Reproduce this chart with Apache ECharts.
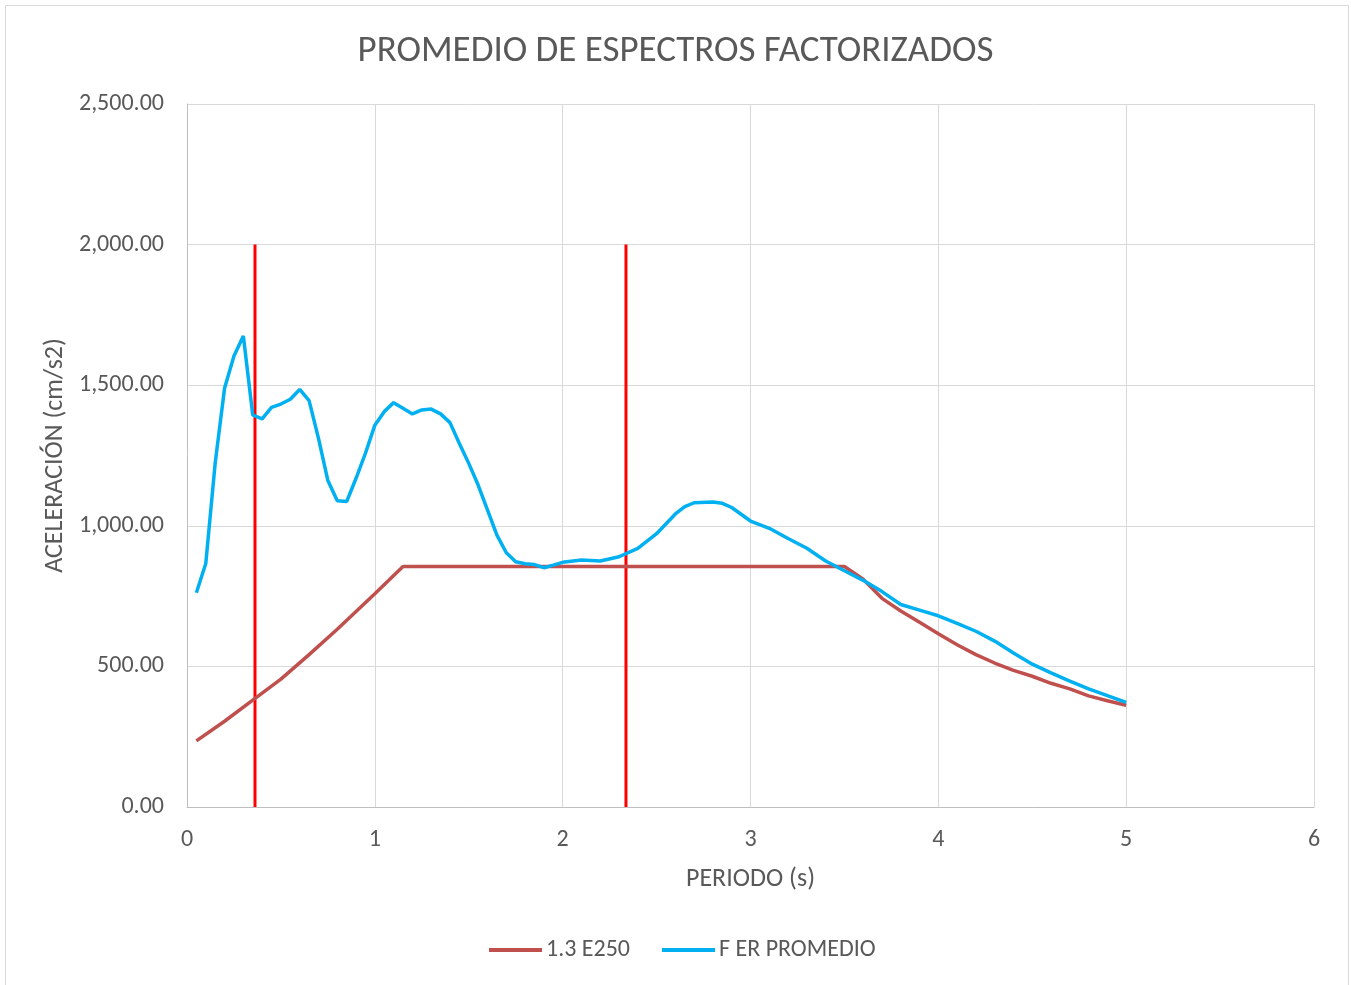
<!DOCTYPE html>
<html>
<head>
<meta charset="utf-8">
<script src="https://cdn.jsdelivr.net/npm/echarts@6/dist/echarts.min.js"></script>
<style>
html,body{margin:0;padding:0;background:#fff;}
#chart{width:1351px;height:985px;}
</style>
</head>
<body>
<div id="chart"></div>
<script>
// Data
const titleText = "PROMEDIO DE ESPECTROS FACTORIZADOS";
const xAxisName = "PERIODO (s)";
const yAxisName = "ACELERACIÓN (cm/s2)";
const seriesNames = ["1.3 E250", "F ER PROMEDIO"];

const e250Periods = [0.05, 0.2, 0.35, 0.5, 0.65, 0.8, 0.9, 1.0, 1.15, 3.5, 3.6, 3.7, 3.8, 3.9, 4.0, 4.1, 4.2, 4.3, 4.4, 4.5, 4.6, 4.7, 4.8, 4.9, 5.0];
const e250Values  = [235, 305, 380, 455, 542, 632, 695, 758, 855, 855, 810, 742, 697, 657, 616, 577, 542, 512, 486, 465, 440, 420, 395, 378, 362];

const promPeriods = [0.05,0.1,0.15,0.2,0.25,0.3,0.35,0.4,0.45,0.5,0.55,0.6,0.65,0.7,0.75,0.8,0.85,0.9,0.95,1.0,1.05,1.1,1.15,1.2,1.25,1.3,1.35,1.4,1.45,1.5,1.55,1.6,1.65,1.7,1.75,1.8,1.85,1.9,1.95,2.0,2.1,2.2,2.3,2.4,2.5,2.6,2.65,2.7,2.8,2.85,2.9,3.0,3.1,3.2,3.3,3.4,3.5,3.6,3.7,3.8,3.9,4.0,4.1,4.2,4.3,4.4,4.5,4.6,4.7,4.8,4.9,5.0];
const promValues  = [762,866,1223,1489,1604,1675,1394,1380,1421,1433,1450,1485,1445,1311,1161,1089,1086,1169,1258,1358,1406,1438,1418,1398,1412,1415,1398,1367,1293,1222,1145,1056,967,904,872,865,862,851,860,870,878,875,890,920,972,1042,1068,1082,1085,1080,1065,1017,991,955,920,875,840,806,766,720,700,680,653,625,590,548,508,477,448,420,396,372];

const limitPeriods = [0.362, 2.337];
const limitRange = [0, 2000];

const xTicks = {min: 0, max: 6, interval: 1};
const yTicks = {min: 0, max: 2500, interval: 500};

const pairs = (xs, ys) => xs.map((x, i) => [x, ys[i]]);

const FONT = "Carlito, 'Liberation Sans Narrow', 'Open Sans', sans-serif";
const TXT = '#595959';

const chart = echarts.init(document.getElementById('chart'), null, {renderer: 'canvas'});

const limitSeries = limitPeriods.map((p, i) => ({
  name: 'limit' + i,
  type: 'line',
  data: limitRange.map(v => [p, v]),
  showSymbol: false,
  symbol: 'none',
  silent: true,
  lineStyle: {color: '#FF0000', width: 3},
  z: 1
}));

chart.setOption({
  animation: false,
  backgroundColor: '#fff',
  textStyle: {fontFamily: FONT},
  title: {
    text: titleText,
    left: 'center',
    top: 28,
    textStyle: {fontFamily: FONT, fontSize: 37, fontWeight: 'normal', color: TXT}
  },
  graphic: [{
    type: 'rect',
    shape: {x: 5.5, y: 5.5, width: 1343, height: 1000},
    style: {fill: 'none', stroke: '#D9D9D9', lineWidth: 1},
    silent: true,
    z: -10
  }],
  legend: {
    data: seriesNames,
    bottom: 18,
    left: 484,
    itemWidth: 53,
    itemHeight: 4,
    itemGap: 32,
    icon: 'rect',
    textStyle: {fontFamily: FONT, fontSize: 24, color: TXT, padding: [0,0,0,-1]}
  },
  grid: {left: 187, right: 37, top: 104, bottom: 178, containLabel: false},
  xAxis: {
    type: 'value',
    min: xTicks.min, max: xTicks.max, interval: xTicks.interval,
    name: xAxisName,
    nameLocation: 'middle',
    nameGap: 59,
    nameTextStyle: {fontFamily: FONT, fontSize: 26, color: TXT},
    axisLine: {show: true, lineStyle: {color: '#BFBFBF', width: 1}},
    axisTick: {show: false},
    axisLabel: {fontFamily: FONT, fontSize: 24, color: TXT, margin: 21},
    splitLine: {show: true, lineStyle: {color: '#D9D9D9', width: 1}}
  },
  yAxis: {
    type: 'value',
    min: yTicks.min, max: yTicks.max, interval: yTicks.interval,
    name: yAxisName,
    nameLocation: 'middle',
    nameRotate: 90,
    nameGap: 117,
    nameTextStyle: {fontFamily: FONT, fontSize: 26, color: TXT},
    axisLine: {show: true, lineStyle: {color: '#BFBFBF', width: 1}},
    axisTick: {show: false},
    axisLabel: {
      fontFamily: FONT, fontSize: 24, color: TXT, margin: 23,
      formatter: v => v.toLocaleString('en-US', {minimumFractionDigits: 2, maximumFractionDigits: 2})
    },
    splitLine: {show: true, lineStyle: {color: '#D9D9D9', width: 1}}
  },
  series: [
    {
      name: seriesNames[0],
      type: 'line',
      data: pairs(e250Periods, e250Values),
      showSymbol: false, symbol: 'none',
      itemStyle: {color: '#C0504D'},
      lineStyle: {color: '#C0504D', width: 3.5},
      z: 2
    },
    {
      name: seriesNames[1],
      type: 'line',
      data: pairs(promPeriods, promValues),
      showSymbol: false, symbol: 'none',
      itemStyle: {color: '#00B0F0'},
      lineStyle: {color: '#00B0F0', width: 3.5},
      z: 3
    },
    ...limitSeries
  ]
});
</script>
</body>
</html>
